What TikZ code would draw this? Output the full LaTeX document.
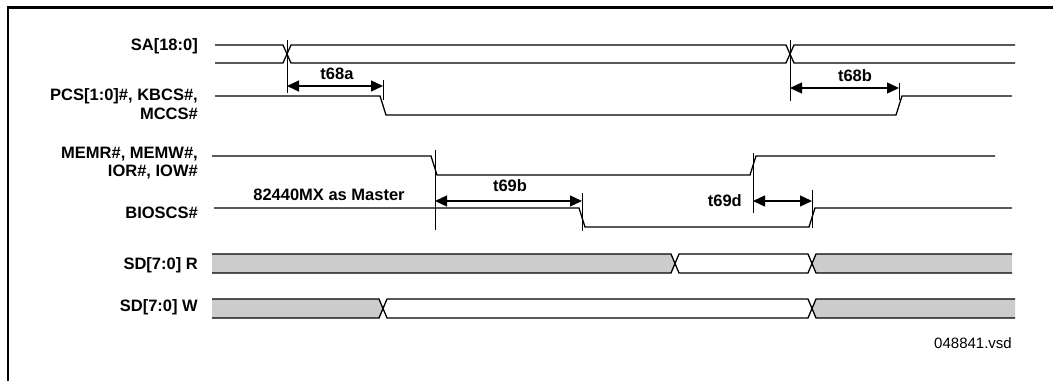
\documentclass[tikz,border=0pt]{standalone}
\usepackage{fontspec}
\newfontfamily\arialfont{Liberation Sans}
\usetikzlibrary{arrows.meta}
\definecolor{busgray}{RGB}{204,204,204}

\begin{document}
\begin{tikzpicture}[x=1pt, y=-1pt,
    sig/.style={line width=1.3pt, line join=miter},
    marker/.style={line width=1pt},
    dimarrow/.style={{Triangle[length=12pt,width=11pt]}-{Triangle[length=12pt,width=11pt]}, line width=1.3pt},
    lbl/.style={anchor=east, inner sep=0pt, align=right, font=\arialfont\bfseries\fontsize{16.5}{18.5}\selectfont},
    tlbl/.style={inner sep=0pt, font=\arialfont\bfseries\fontsize{16.5}{18.5}\selectfont},
    busfill/.style={fill=busgray}
]
\useasboundingbox (0,0) rectangle (1053,381);

% Frame
\draw[line width=2.2pt] (8,381) -- (8,7.5) -- (1053,7.5);

% Signal names
\node[lbl] (nSA) at (198,46) {SA[18:0]};
\node[lbl] (nPCS) at (198,104) {PCS[1:0]\#, KBCS\#,\\MCCS\#};
\node[lbl] (nMEM) at (198,163) {MEMR\#, MEMW\#,\\IOR\#, IOW\#};
\node[lbl] (nBIOS) at (198,213) {BIOSCS\#};
\node[lbl] (nSDR) at (198,265) {SD[7:0] R};
\node[lbl] (nSDW) at (198,307) {SD[7:0] W};

% Waveforms
\draw[sig] (215,45) -- (283,45) -- (291,63) -- (786,63) -- (794,45) -- (1015,45);
\draw[sig] (215,63) -- (283,63) -- (291,45) -- (786,45) -- (794,63) -- (1015,63);
\draw[sig] (215,96) -- (380,96) -- (386,115) -- (896,115) -- (902,96) -- (1012,96);
\draw[sig] (212,156) -- (431,156) -- (437,175) -- (750,175) -- (756,156) -- (995,156);
\draw[sig] (214,208) -- (579,208) -- (585,227) -- (809,227) -- (815,208) -- (1012,208);

% Data buses
\fill[busfill] (212,254) -- (671,254) -- (675,263.5) -- (671,273) -- (212,273) -- cycle;
\fill[busfill] (1012,254) -- (816,254) -- (812,263.5) -- (816,273) -- (1012,273) -- cycle;
\draw[sig] (212,254) -- (671,254) -- (679,273) -- (808,273) -- (816,254) -- (1012,254);
\draw[sig] (212,273) -- (671,273) -- (679,254) -- (808,254) -- (816,273) -- (1012,273);

\fill[busfill] (212,299) -- (379,299) -- (383,308.5) -- (379,318) -- (212,318) -- cycle;
\fill[busfill] (1015,299) -- (816,299) -- (812,308.5) -- (816,318) -- (1015,318) -- cycle;
\draw[sig] (212,299) -- (379,299) -- (387,318) -- (808,318) -- (816,299) -- (1015,299);
\draw[sig] (212,318) -- (379,318) -- (387,299) -- (808,299) -- (816,318) -- (1015,318);

% Timing marks
\draw[marker] (287,40) -- (287,93);
\draw[marker] (383,80) -- (383,100);
\draw[marker] (790,40) -- (790,101);
\draw[marker] (899,83) -- (899,100);
\draw[marker] (435,150) -- (435,230);
\draw[marker] (582,193) -- (582,231);
\draw[marker] (753,153) -- (753,213);
\draw[marker] (812,190) -- (812,228);

\coordinate (a68s) at (287,86);
\coordinate (a68e) at (383,86);
\coordinate (b68s) at (790,88);
\coordinate (b68e) at (899,88);
\coordinate (b69s) at (435,201);
\coordinate (b69e) at (582,201);
\coordinate (d69s) at (753,201);
\coordinate (d69e) at (812,201);

\draw[dimarrow] (a68s) -- (a68e);
\draw[dimarrow] (b68s) -- (b68e);
\draw[dimarrow] (b69s) -- (b69e);
\draw[dimarrow] (d69s) -- (d69e);

% Timing labels
\node[tlbl] (t68a) at (337,74) {t68a};
\node[tlbl] (t68b) at (855,76) {t68b};
\node[tlbl] (t69b) at (510,186) {t69b};
\node[tlbl, anchor=east] (t69d) at (742,201) {t69d};
\node[tlbl] (master) at (329,195) {82440MX as Master};

\node[anchor=east, inner sep=0pt, font=\arialfont\fontsize{15}{17}\selectfont] (vsd) at (1012,343) {048841.vsd};

\end{tikzpicture}
\end{document}
